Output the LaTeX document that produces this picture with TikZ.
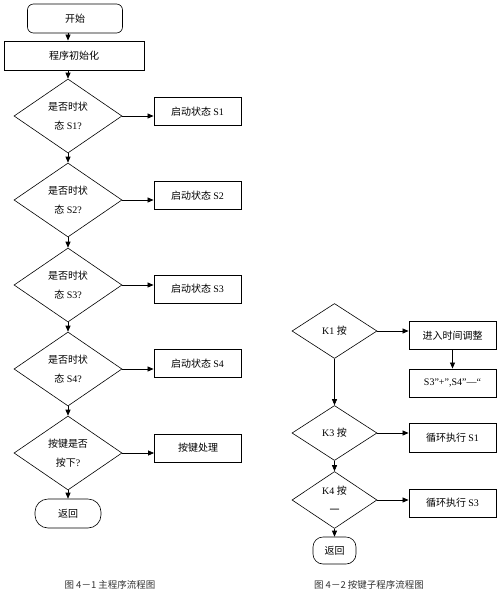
\documentclass[tikz,border=0pt]{standalone}
\usepackage{fontspec}
\setmainfont{Liberation Serif}
\newfontfamily\cjk{Noto Sans CJK SC}
\usetikzlibrary{shapes.geometric,arrows.meta}
\begin{document}
\begin{tikzpicture}[x=1pt,y=-1pt,
  font=\fontsize{10}{19}\selectfont,
  every node/.style={inner sep=0pt, align=center},
  procbox/.style={draw, line width=0.9pt, minimum width=87pt, minimum height=28pt},
  decision/.style={draw, line width=0.6pt, diamond, minimum width=108pt, minimum height=74pt},
  smalldec/.style={draw, line width=0.6pt, diamond, minimum width=85pt, minimum height=55pt},
  terminal/.style={draw, line width=0.6pt, rounded corners=#1},
  flow/.style={line width=0.7pt, -{Triangle[length=6pt,width=5pt]}},
  caption/.style={font=\cjk\fontsize{9.5}{11}\selectfont, text=black!80}]
\useasboundingbox (0,0) rectangle (500,592);

% left column
\node[terminal=6pt, minimum width=95pt, minimum height=29pt] (start) at (75,18.5) {\cjk 开始};
\node[procbox, minimum width=140pt, minimum height=29pt] (init) at (74,55.5) {\cjk 程序初始化};
\node[decision] (d1) at (68,116) {\raisebox{-3pt}{\cjk 是否时状}\\\raisebox{-3pt}{{\cjk 态} S1?}};
\node[procbox] (b1) at (197.5,111.5) {\cjk 启动状态 \rmfamily S1};
\node[decision] (d2) at (68,200) {\raisebox{-3pt}{\cjk 是否时状}\\\raisebox{-3pt}{{\cjk 态} S2?}};
\node[procbox] (b2) at (197.5,195.5) {\cjk 启动状态 \rmfamily S2};
\node[decision] (d3) at (68,285) {\raisebox{-3pt}{\cjk 是否时状}\\\raisebox{-3pt}{{\cjk 态} S3?}};
\node[procbox] (b3) at (197.5,289) {\cjk 启动状态 \rmfamily S3};
\node[decision] (d4) at (68,369) {\raisebox{-3pt}{\cjk 是否时状}\\\raisebox{-3pt}{{\cjk 态} S4?}};
\node[procbox] (b4) at (197.5,363.5) {\cjk 启动状态 \rmfamily S4};
\node[decision] (d5) at (68,453) {\cjk 按键是否\\{\cjk 按下}?};
\node[procbox] (b5) at (198,448) {\cjk 按键处理};
\node[terminal=13pt, minimum width=66pt, minimum height=29pt] (ret1) at (68,513.5) {\cjk 返回};

\draw[flow] (d1.north |- start.south) -- (d1.north |- init.north);
\draw[flow] (d1.north |- init.south) -- (d1.north);
\draw[flow] (d1.south) -- (d2.north);
\draw[flow] (d2.south) -- (d3.north);
\draw[flow] (d3.south) -- (d4.north);
\draw[flow] (d4.south) -- (d5.north);
\draw[flow] (d5.south) -- (ret1.north);
\draw[flow] (d1.east) -- (d1.east -| b1.west);
\draw[flow] (d2.east) -- (d2.east -| b2.west);
\draw[flow] (d3.east) -- (d3.east -| b3.west);
\draw[flow] (d4.east) -- (d4.east -| b4.west);
\draw[flow] (d5.east) -- (d5.east -| b5.west);

% right column
\node[smalldec] (k1) at (334.5,331) {K1 {\cjk 按}};
\node[procbox] (bt) at (452.5,335.5) {\cjk 进入时间调整};
\node[procbox, minimum height=28pt] (bs) at (452.5,383) {S3”+”,S4”—“};
\node[smalldec] (k3) at (334.5,433) {K3 {\cjk 按}};
\node[procbox, minimum height=29pt] (c1) at (452.5,437.5) {\cjk 循环执行 \rmfamily S1};
\node[smalldec, minimum height=57pt] (k4) at (334.5,500) {K4 {\cjk 按}\\{\cjk 一}};
\node[procbox] (c3) at (452.5,503) {\cjk 循环执行 \rmfamily S3};
\node[terminal=10pt, minimum width=43pt, minimum height=27pt] (ret2) at (334.5,550.5) {\cjk 返回};

\draw[flow] (k1.east) -- (k1.east -| bt.west);
\draw[flow] (bt.south) -- (bs.north);
\draw[flow] (k1.south) -- (k3.north);
\draw[flow] (k3.east) -- (k3.east -| c1.west);
\draw[flow] (k3.south) -- (k4.north);
\draw[flow] (k4.east) -- (k4.east -| c3.west);
\draw[flow] (k4.south) -- (ret2.north);

% captions
\node[caption] (cap1) at (110,585) {图 4－1 主程序流程图};
\node[caption] (cap2) at (369,585) {图 4－2 按键子程序流程图};
\end{tikzpicture}
\end{document}
